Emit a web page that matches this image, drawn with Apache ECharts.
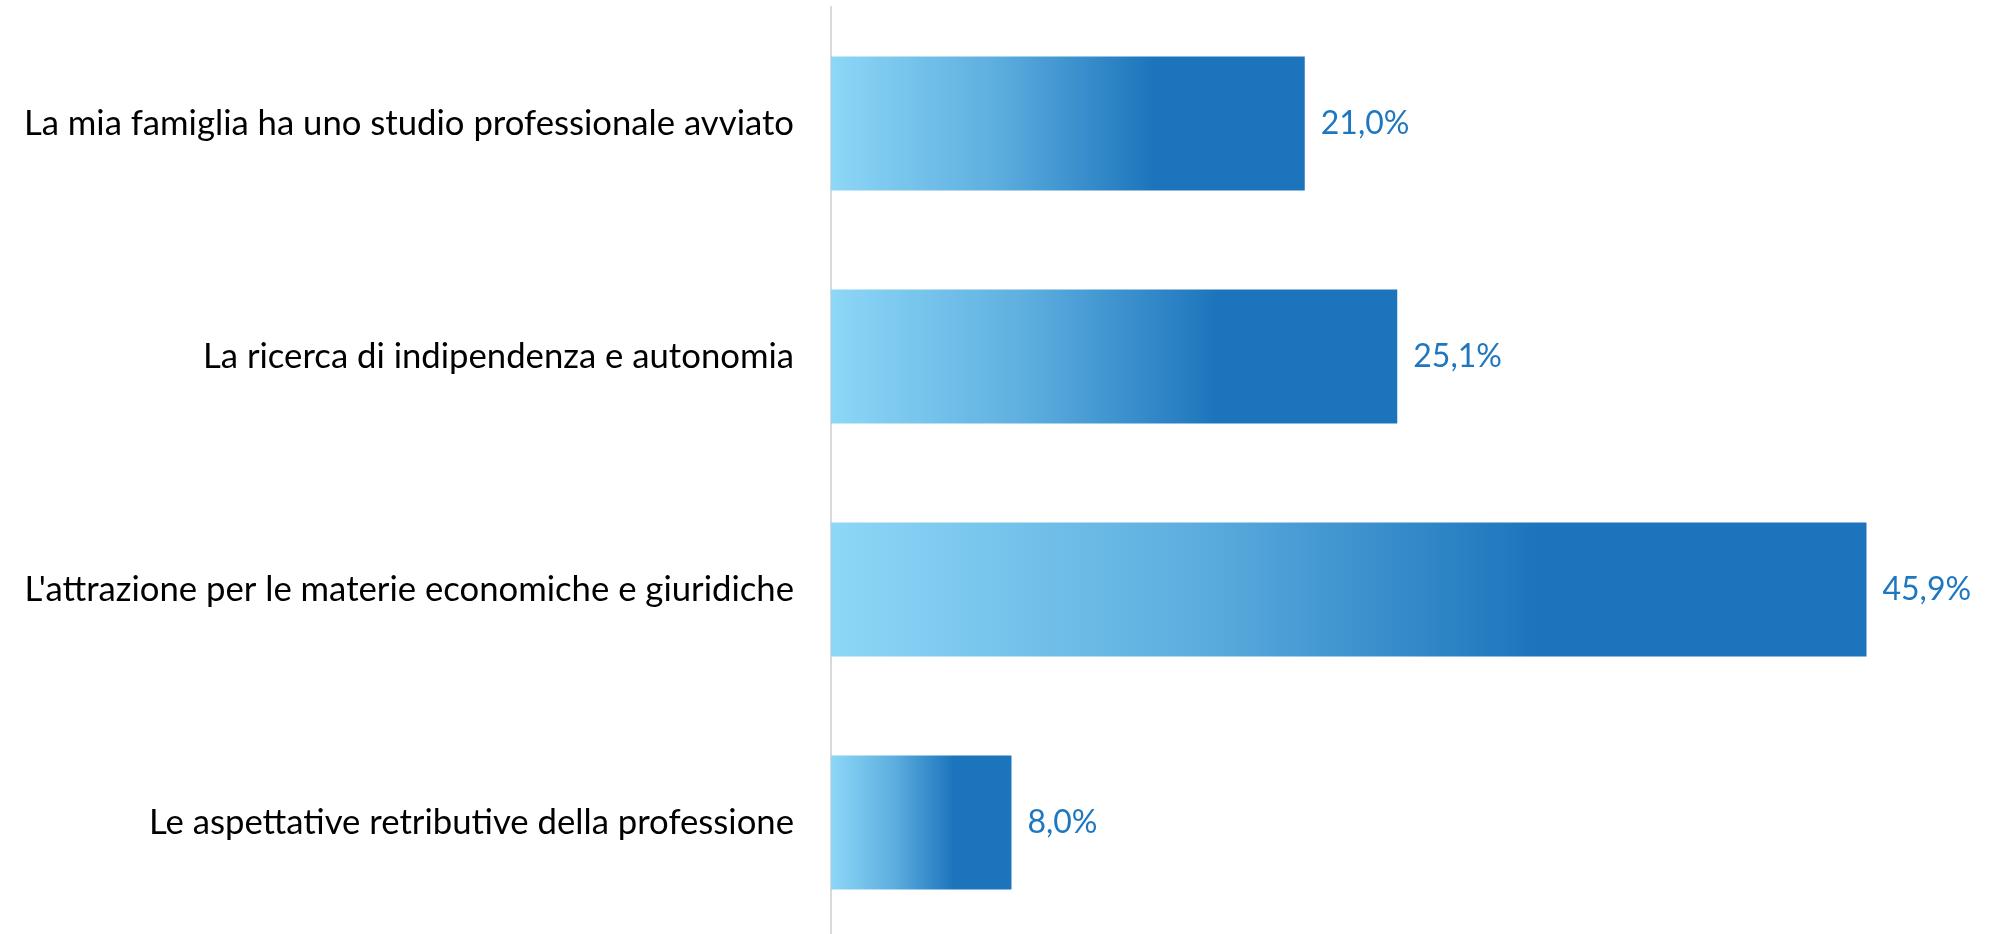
<!DOCTYPE html>
<html>
<head>
<meta charset="utf-8">
<script src="https://cdn.jsdelivr.net/npm/echarts@6/dist/echarts.min.js"></script>
<style>
  html, body { margin: 0; padding: 0; background: #fff; }
  #chart { width: 2006px; height: 934px; }
</style>
</head>
<body>
<div id="chart"></div>
<script>
  // categories top -> bottom
  const categories = [
    'La mia famiglia ha uno studio professionale avviato',
    'La ricerca di indipendenza e autonomia',
    "L'attrazione per le materie economiche e giuridiche",
    'Le aspettative retributive della professione'
  ]
  const values = [21.0, 25.1, 45.9, 8.0]

  const chart = echarts.init(document.getElementById('chart'))

  // bar fill: light cyan on the left to deep blue, flat on the last third
  const barFill = new echarts.graphic.LinearGradient(0, 0, 1, 0, [
    { offset: 0, color: '#8DD7F7' },
    { offset: 0.35, color: '#5DAEDF' },
    { offset: 0.68, color: '#1C75BC' },
    { offset: 1, color: '#1C75BC' }
  ])

  const option = {
    animation: false,
    backgroundColor: '#ffffff',
    grid: {
      left: 831,
      right: 47,
      top: 7,
      height: 932,
      outerBoundsMode: 'none',
      containLabel: false
    },
    xAxis: {
      type: 'value',
      min: 0,
      max: 50,
      show: false
    },
    yAxis: {
      type: 'category',
      inverse: true,
      data: categories,
      axisLine: { show: true, lineStyle: { color: '#d9d9d9', width: 2 } },
      axisTick: { show: false },
      axisLabel: {
        margin: 37,
        color: '#000000',
        fontFamily: 'Lato',
        fontSize: 34.7
      }
    },
    series: [{
      type: 'bar',
      data: values,
      barWidth: 134,
      itemStyle: { color: barFill },
      label: {
        show: true,
        position: 'right',
        distance: 16,
        color: '#1F77C0',
        fontFamily: 'Lato',
        fontSize: 32,
        formatter: function (p) {
          return p.value.toFixed(1).replace('.', ',') + '%'
        }
      }
    }]
  }

  chart.setOption(option)
</script>
</body>
</html>
